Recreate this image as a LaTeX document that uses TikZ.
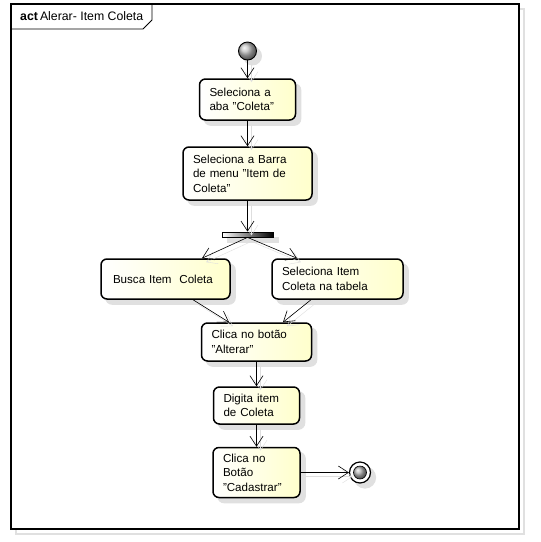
\documentclass[tikz,border=0pt]{standalone}
\usepackage{fontspec}
\setmainfont{Liberation Sans}
\usetikzlibrary{arrows.meta}
\newcommand{\aspa}{{\char34}}

\tikzset{
  sombra/.style={preaction={fill=black!12, draw=black!12, transform canvas={shift={(5,5)}}}},
  acao/.style={rectangle, rounded corners=6pt, draw, line width=1.5pt,
    left color=white, right color=yellow!20, align=left,
    inner xsep=10pt, inner ysep=0pt, sombra},
  seta/.style={-{Straight Barb[length=10pt,width=13pt]}, line width=.6pt,
    preaction={draw=black!13, transform canvas={shift={(4,4)}}}},
}

\begin{document}
\begin{tikzpicture}[x=1pt, y=-1pt, font=\fontsize{11.6}{14.5}\selectfont]
            \useasboundingbox (0,0) rectangle (541,542);
            % Frame
            \draw[black!12, line width=1.3pt] (16,9) rectangle (524,534);
            \draw[line width=1.3pt, fill=white] (11,4) rectangle (519,529);
            \draw[line width=.8pt] (11,29) -- (143,29) -- (152,20) -- (152,4);
            \node[anchor=west, inner sep=0pt, font=\fontsize{12.3}{14}\selectfont]
                (Titulo) at (20,16.5) {\textbf{act}\,Alerar- Item Coleta};
            % Initial node
            \node[circle, minimum size=18pt, inner sep=0pt, draw, line width=.9pt,
                shading=ball, ball color=gray!50, sombra] (Inicio) at (247.5,51) {};
            % Actions
            \node[acao, text width=76pt, minimum height=41pt]
                (Acao-1) at (247.5,99.5) {Seleciona a\\aba \aspa Coleta\aspa};
            \node[acao, text width=109pt, minimum height=53pt]
                (Acao-2) at (247.5,173.5) {Seleciona a Barra\\de menu \aspa Item de\\Coleta\aspa};
            % Fork
            \node[rectangle, minimum width=51pt, minimum height=5pt, inner sep=0pt,
                draw, line width=.8pt, left color=white, right color=black, sombra]
                (Fork) at (247.5,234.5) {};
            \node[acao, minimum height=40pt, inner xsep=12pt, text width=105pt]
                (Acao-3) at (165.5,279) {Busca Item~ Coleta};
            \node[acao, text width=111pt, minimum height=40pt]
                (Acao-4) at (337.5,279) {Seleciona Item\\Coleta na tabela};
            \node[acao, text width=90pt, minimum height=38pt]
                (Acao-5) at (256.5,342) {Clica no botão\\\aspa Alterar\aspa};
            \node[acao, text width=66pt, minimum height=37pt]
                (Acao-6) at (256.5,405.5) {Digita item\\de Coleta};
            \node[acao, text width=67pt, minimum height=50pt]
                (Acao-7) at (256.5,472.5) {Clica no\\Botão\\\aspa Cadastrar\aspa};
            % Final node
            \node[circle, minimum size=21pt, inner sep=0pt, draw, line width=1.2pt,
                fill=white, sombra] (Fim) at (360,472.5) {};
            \node[circle, minimum size=13pt, inner sep=0pt, draw, line width=.6pt,
                shading=ball, ball color=gray!60] (Fim-in) at (Fim) {};
            % Arrows
            \foreach \a/\b in {Inicio/Acao-1, Acao-1/Acao-2, Acao-2/Fork,
                               Acao-5/Acao-6, Acao-6/Acao-7} {
                \draw[seta] (\a) -- (\b);
            }
            \draw[seta] (Fork.south) -- ([xshift=36.5pt]Acao-3.north);
            \draw[seta] (Fork.south) -- ([xshift=-40.5pt]Acao-4.north);
            \draw[seta] ([xshift=27.5pt]Acao-3.south) -- ([xshift=-27.5pt]Acao-5.north);
            \draw[seta] ([xshift=-26.5pt]Acao-4.south) -- ([xshift=26.5pt]Acao-5.north);
            \draw[seta] (Acao-7) -- (Fim);
        \end{tikzpicture}
\end{document}
